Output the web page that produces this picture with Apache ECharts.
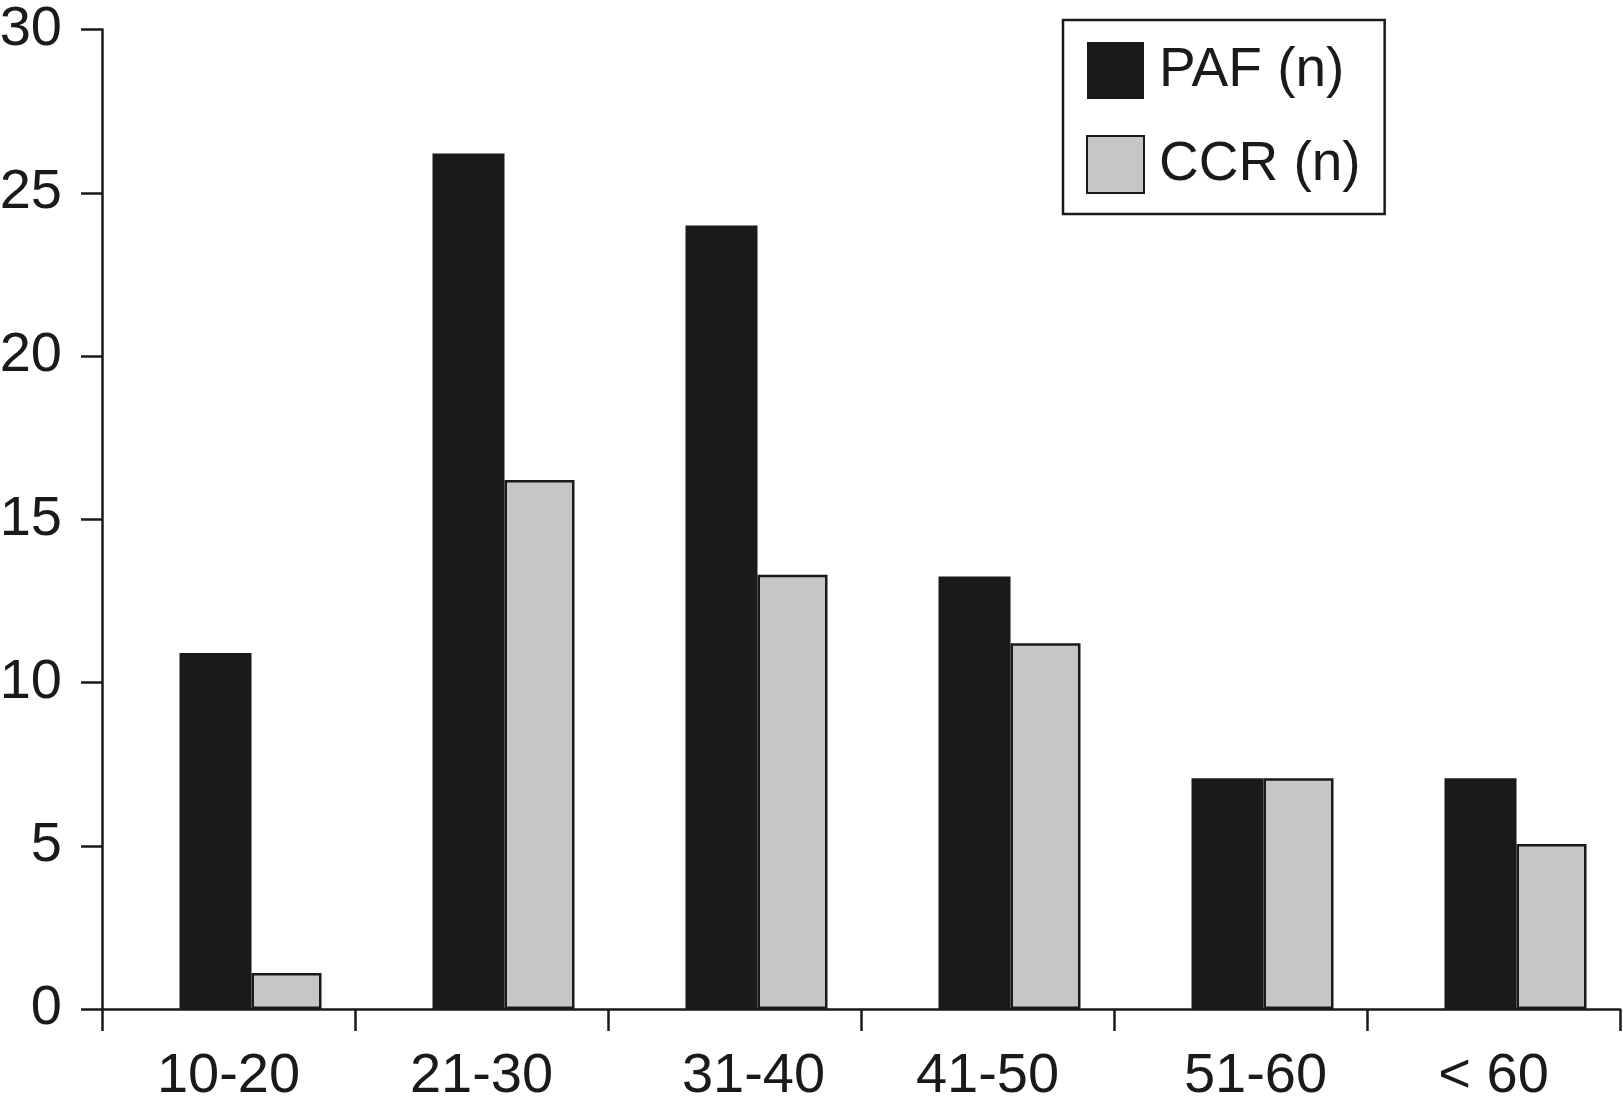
<!DOCTYPE html>
<html>
<head>
<meta charset="utf-8">
<script src="https://cdn.jsdelivr.net/npm/echarts@6/dist/echarts.min.js"></script>
<style>html,body{margin:0;padding:0;background:#fff;}#c{width:1623px;height:1112px;}</style>
</head>
<body>
<div id="c"></div>
<script>
const categories = ['10-20', '21-30', '31-40', '41-50', '51-60', '< 60'];
const pafValues = [10.9, 26.2, 24.0, 13.25, 7.07, 7.07];
const ccrValues = [1.1, 16.2, 13.3, 11.2, 7.07, 5.05];
const seriesNames = ['PAF (n)', 'CCR (n)'];
const yTicks = { min: 0, max: 30, interval: 5 };

const font = 'Liberation Sans, Arial, Helvetica, sans-serif';
const ink = '#1a1a1a';
// per-label horizontal nudge style (label placement in the original is slightly uneven)
const labelStyleKey = ['n', 'n', 'r19', 'n', 'r15', 'n'];
const labelText = { fontFamily: font, fontSize: 56, color: ink };

const chart = echarts.init(document.getElementById('c'));
chart.setOption({
  backgroundColor: '#fff',
  animation: false,
  legend: {
    orient: 'vertical',
    left: 1063, top: 20,
    data: seriesNames,
    icon: 'rect',
    itemWidth: 57, itemHeight: 57, itemGap: 36,
    padding: [22, 24, 20, 23],
    borderColor: ink, borderWidth: 2.5,
    textStyle: { fontFamily: font, fontSize: 55, color: ink, padding: [0, 0, 0, 10] }
  },
  grid: [
    { left: 102, top: 29.5, right: 3, bottom: 103, outerBoundsMode: 'none' },
    { left: 124, top: 29.5, right: -19, bottom: 103, outerBoundsMode: 'none' }
  ],
  xAxis: [
    {
      type: 'category', gridIndex: 0, data: categories,
      axisLine: { lineStyle: { color: ink, width: 2.5 } },
      axisTick: { show: true, interval: 0, length: 22, lineStyle: { color: ink, width: 2.5 } },
      axisLabel: {
        interval: 0, fontFamily: font, fontSize: 56, color: ink, margin: 40,
        formatter: function (v, i) { return '{' + labelStyleKey[i] + '|' + v + '}'; },
        rich: {
          n: Object.assign({}, labelText),
          r19: Object.assign({ padding: [0, 0, 0, 38] }, labelText),
          r15: Object.assign({ padding: [0, 0, 0, 30] }, labelText)
        }
      }
    },
    {
      type: 'category', gridIndex: 1, data: categories, show: false
    }
  ],
  yAxis: [
    {
      type: 'value', gridIndex: 0, min: yTicks.min, max: yTicks.max, interval: yTicks.interval,
      splitLine: { show: false },
      axisLine: { show: true, lineStyle: { color: ink, width: 2.5 } },
      axisTick: { show: true, length: 21, lineStyle: { color: ink, width: 2.5 } },
      axisLabel: { fontFamily: font, fontSize: 56, color: ink, margin: 40 }
    },
    {
      type: 'value', gridIndex: 1, min: yTicks.min, max: yTicks.max, interval: yTicks.interval, show: false,
      splitLine: { show: false }
    }
  ],
  series: [
    {
      name: seriesNames[0], type: 'bar', xAxisIndex: 1, yAxisIndex: 1,
      data: pafValues, barWidth: 72, barGap: '0%',
      itemStyle: { color: ink }
    },
    {
      name: seriesNames[1], type: 'bar', xAxisIndex: 1, yAxisIndex: 1,
      data: ccrValues, barWidth: 70, barGap: '0%',
      itemStyle: { color: '#c6c6c6', borderColor: ink, borderWidth: 2.5 }
    }
  ]
});
</script>
</body>
</html>
